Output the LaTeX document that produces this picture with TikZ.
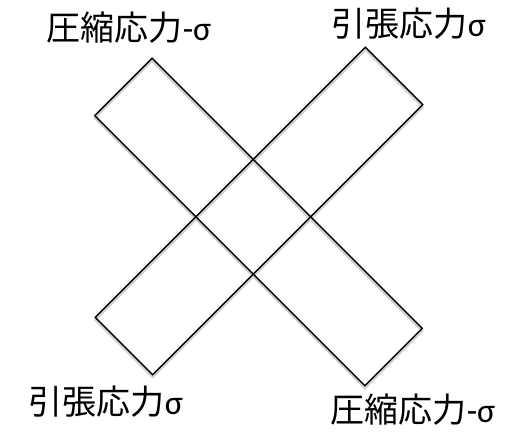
\documentclass[tikz,border=0pt]{standalone}
\usepackage{fontspec}
\setmainfont{Carlito}
\newfontfamily\cjk{Noto Sans CJK JP}
\begin{document}
\begin{tikzpicture}[x=1pt,y=-1pt,
  bar/.style={draw=black, line width=1.4pt, minimum width=382pt, minimum height=81pt, inner sep=0pt},
  barshadow/.style={draw=black!18, line width=2.2pt, minimum width=382pt, minimum height=81pt, inner sep=0pt},
  lbl/.style={inner sep=0pt, font=\fontsize{34}{40}\selectfont}]
\useasboundingbox (0,0) rectangle (510,431);
\node[barshadow, rotate=-45] (As) at (258.5,224.5) {};
\node[barshadow, rotate=45] (Bs) at (259,213.5) {};
\node[bar, rotate=-45] (A) at (258.5,222) {};
\node[bar, rotate=45] (B) at (259,211) {};
\node[lbl] (tl) at (129,28) {{\cjk 圧縮応力}-σ};
\node[lbl] (tr) at (409,24) {{\cjk 引張応力}σ};
\node[lbl] (bl) at (106,402) {{\cjk 引張応力}σ};
\node[lbl] (br) at (413,410) {{\cjk 圧縮応力}-σ};
\end{tikzpicture}
\end{document}
